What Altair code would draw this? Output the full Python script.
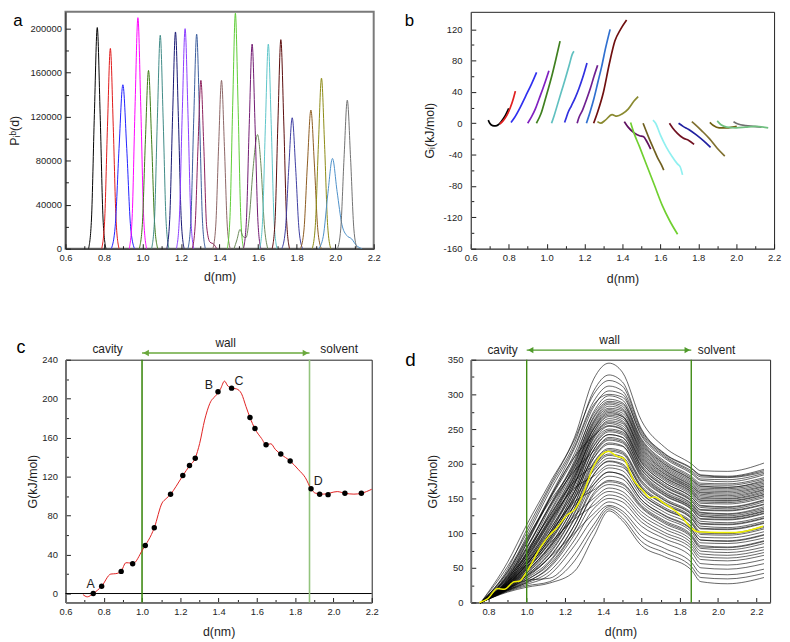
import altair as alt
import pandas as pd

FONT = "Liberation Sans"
INK = "#1e1e1e"

# ---------------- panel a : window histograms ----------------
A_COLORS = ["#000000", "#e01818", "#2020ff", "#ff00ff", "#3c7a14", "#3f8a86", "#141470",
            "#8a3cff", "#3a5c9c", "#8c1e5a", "#8c6464", "#5ccc34", "#6a8a58", "#701870",
            "#5cc4c8", "#5a0a0a", "#3c3ca0", "#8c5a1e", "#8c8a14", "#4c90c8", "#707070"]
A_X = [
    [0.72, 0.735, 0.75, 0.765, 0.78, 0.795, 0.81],
    [0.788, 0.803, 0.818, 0.833, 0.848, 0.863, 0.878],
    [0.838, 0.858, 0.878, 0.898, 0.918, 0.938, 0.958],
    [0.931, 0.946, 0.961, 0.976, 0.991, 1.006, 1.021],
    [0.983, 0.999, 1.015, 1.031, 1.047, 1.063, 1.079],
    [1.047, 1.062, 1.077, 1.092, 1.107, 1.122, 1.137],
    [1.126, 1.141, 1.156, 1.171, 1.186, 1.201, 1.216],
    [1.176, 1.191, 1.206, 1.221, 1.236, 1.251, 1.266],
    [1.236, 1.251, 1.266, 1.281, 1.296, 1.311, 1.326],
    [1.258, 1.273, 1.288, 1.303, 1.318, 1.333, 1.35, 1.37, 1.385],
    [1.365, 1.38, 1.395, 1.41, 1.425, 1.44, 1.455],
    [1.44, 1.454, 1.468, 1.482, 1.496, 1.51, 1.524],
    [1.475, 1.49, 1.506, 1.522, 1.537, 1.555, 1.575, 1.597, 1.615, 1.632, 1.65],
    [1.524, 1.539, 1.554, 1.569, 1.584, 1.599, 1.614],
    [1.608, 1.623, 1.638, 1.653, 1.668, 1.683, 1.698],
    [1.673, 1.688, 1.703, 1.718, 1.733, 1.748, 1.763],
    [1.723, 1.741, 1.759, 1.777, 1.795, 1.813, 1.831],
    [1.82, 1.838, 1.856, 1.874, 1.892, 1.91, 1.928],
    [1.881, 1.897, 1.913, 1.929, 1.945, 1.961, 1.977],
    [1.914, 1.938, 1.962, 1.986, 2.01, 2.035, 2.06, 2.085, 2.11, 2.14],
    [2.012, 2.029, 2.046, 2.063, 2.08, 2.097, 2.114],
]
A_Y = [
    [0, 27000, 122000, 201000, 122000, 27000, 0],
    [0, 24500, 111000, 182000, 111000, 24500, 0],
    [0, 20000, 91000, 149000, 91000, 20000, 0],
    [0, 28000, 128000, 210000, 128000, 28000, 0],
    [0, 22000, 99000, 162000, 99000, 22000, 0],
    [0, 26000, 118000, 194000, 118000, 26000, 0],
    [0, 26500, 120000, 197000, 120000, 26500, 0],
    [0, 27000, 122000, 200000, 122000, 27000, 0],
    [0, 26000, 119000, 195000, 119000, 26000, 0],
    [0, 20500, 93000, 153000, 93000, 20000, 6000, 4000, 0],
    [0, 20500, 93000, 153000, 93000, 20500, 0],
    [0, 29000, 130000, 214000, 130000, 29000, 0],
    [0, 8000, 17500, 11000, 10000, 30000, 75000, 103700, 75000, 22000, 0],
    [0, 25000, 113000, 186000, 113000, 25000, 0],
    [0, 25000, 113000, 186000, 113000, 25000, 0],
    [0, 25600, 116000, 190000, 116000, 25600, 0],
    [0, 16000, 72600, 119000, 72600, 16000, 0],
    [0, 17000, 77000, 126000, 77000, 17000, 0],
    [0, 21000, 94500, 155000, 94500, 21000, 0],
    [0, 11000, 50000, 82000, 52000, 22000, 12000, 9000, 3000, 0],
    [0, 18000, 82000, 135000, 82000, 18000, 0],
]

# ---------------- panel b : window free energies ----------------
B_COLORS = ["#000000", "#e02020", "#3030f0", "#8020c0", "#408020", "#60c0c0", "#3030e0",
            "#702090", "#3070d0", "#701010", "#8a8a30", "#601060", "#70d030", "#706020",
            "#90f0f0", "#701020", "#2020a0", "#807030", "#706010", "#707070", "#70c080"]
B_X = [
    [0.692, 0.70, 0.715, 0.73, 0.745, 0.76, 0.78, 0.80],
    [0.753, 0.77, 0.79, 0.81, 0.825, 0.835],
    [0.812, 0.83, 0.86, 0.89, 0.92, 0.947],
    [0.90, 0.92, 0.94, 0.96, 0.98, 1.0, 1.012],
    [0.946, 0.97, 0.99, 1.01, 1.03, 1.05, 1.071],
    [1.026, 1.04, 1.06, 1.08, 1.10, 1.12, 1.135, 1.144],
    [1.095, 1.105, 1.112, 1.13, 1.15, 1.17, 1.19, 1.213],
    [1.161, 1.17, 1.19, 1.21, 1.23, 1.25, 1.269],
    [1.21, 1.23, 1.25, 1.27, 1.29, 1.31, 1.335],
    [1.248, 1.27, 1.30, 1.33, 1.36, 1.39, 1.422],
    [1.268, 1.285, 1.31, 1.345, 1.37, 1.40, 1.43, 1.46, 1.483],
    [1.41, 1.43, 1.46, 1.49, 1.51, 1.53, 1.549],
    [1.443, 1.46, 1.49, 1.53, 1.57, 1.61, 1.65, 1.691],
    [1.509, 1.525, 1.545, 1.565, 1.585, 1.605, 1.618],
    [1.561, 1.575, 1.60, 1.63, 1.66, 1.69, 1.705, 1.717],
    [1.648, 1.665, 1.69, 1.72, 1.75, 1.778],
    [1.696, 1.72, 1.75, 1.79, 1.83, 1.865],
    [1.766, 1.79, 1.82, 1.86, 1.90, 1.94],
    [1.861, 1.88, 1.91, 1.95, 1.98, 2.003],
    [1.986, 2.01, 2.05, 2.09, 2.134],
    [1.90, 1.92, 1.95, 2.0, 2.05, 2.1, 2.169],
]
B_Y = [
    [4, 0, -3, -3.5, -2, 2, 9, 19],
    [-1, 3, 10, 21, 32, 41],
    [1, 7, 20, 35, 50, 65],
    [0, 8, 18, 31, 44, 58, 67],
    [0, 12, 28, 45, 63, 83, 105],
    [0, 10, 26, 42, 58, 75, 88, 92],
    [1, 8, 13, 22, 32, 44, 58, 77],
    [0, 7, 17, 30, 44, 60, 74],
    [0, 15, 32, 52, 72, 95, 120],
    [0, 15, 40, 75, 105, 120, 132],
    [2, 0, 4, 11, 9, 12, 18, 28, 34],
    [2, -5, -12, -16, -17, -24, -33],
    [1, -12, -30, -55, -80, -105, -125, -142],
    [0, -10, -22, -33, -44, -53, -60],
    [4, 0, -15, -30, -42, -52, -56, -66],
    [0, -6, -13, -19, -22, -27],
    [0, -4, -8, -15, -23, -31],
    [2, -3, -10, -20, -32, -42],
    [1, -3, -6, -6, -5, -4],
    [2, -1, -3, -4, -5],
    [3, -2, -5, -6, -5, -4, -6],
]

# ---------------- panel c : PMF ----------------
C_CURVE_X = [0.691, 0.714, 0.745, 0.789, 0.837, 0.863, 0.89, 0.916, 0.942, 0.951, 1.003, 1.064,
             1.105, 1.126, 1.149, 1.178, 1.213, 1.248, 1.278, 1.301, 1.327, 1.354, 1.389, 1.41,
             1.431, 1.448, 1.468, 1.494, 1.52, 1.543, 1.564, 1.59, 1.625, 1.648, 1.673, 1.696,
             1.725, 1.774, 1.818, 1.853, 1.883, 1.906, 1.95, 2.02, 2.06, 2.107, 2.146, 2.2]
C_CURVE_Y = [-1, -3.4, 0, 7.5, 20, 20.4, 22.7, 31.6, 31.2, 30.5, 45, 67.5,
             93, 97.4, 101.8, 110, 121, 131, 139, 154, 178, 195, 204, 210,
             218, 213, 211, 210, 205, 192, 180.6, 169, 159, 152.7, 153.7, 148,
             143, 136, 127, 119, 107.6, 103, 102, 104.6, 102.9, 102, 102.9, 107]
C_DOT_X = [0.745, 0.789, 0.891, 0.951, 1.017, 1.064, 1.149, 1.213, 1.248, 1.278, 1.397,
           1.468, 1.564, 1.59, 1.648, 1.725, 1.774, 1.883, 1.928, 1.972, 2.06, 2.146]
C_DOT_Y = [0, 7.5, 22.7, 30.5, 49.2, 67.5, 101.8, 121.2, 131.4, 138.8, 207,
           210.8, 180.6, 169.4, 152.7, 143.2, 136.1, 107.6, 101.8, 101.5, 102.9, 102.9]
C_LABELS = ["A", "B", "C", "D"]
C_LABEL_X = [0.732, 1.349, 1.507, 1.921]
C_LABEL_Y = [10.2, 213.6, 217.7, 115.3]
C_BOUNDS = [1.0, 1.875]
C_BOUND_COLORS = ["#3f8a14", "#93c47d"]
C_REGION_X = [0.82, 2.03]
C_WALL_X = [1.437]

# ---------------- panel d : bootstrap PMFs ----------------
D_KNOTS = [0.76, 0.9, 1.0, 1.12, 1.25, 1.35, 1.43, 1.5, 1.6, 1.72, 1.86, 1.91, 2.05, 2.24]
D_LINES = [
    [0, 58, 112, 172, 238, 322, 345, 332, 262, 224, 200, 190, 189, 201],
    [0, 52, 100, 165, 230, 305, 328, 318, 250, 215, 194, 184, 182, 192],
    [0, 48, 105, 168, 235, 300, 320, 312, 248, 214, 193, 183, 181, 190],
    [0, 45, 95, 160, 225, 290, 312, 305, 245, 212, 190, 181, 180, 188],
    [0, 44, 90, 152, 222, 285, 300, 296, 242, 210, 188, 178, 177, 186],
    [0, 40, 88, 150, 215, 282, 305, 300, 240, 208, 186, 176, 174, 184],
    [0, 39, 85, 148, 210, 272, 293, 288, 234, 202, 180, 170, 169, 178],
    [0, 38, 80, 140, 205, 275, 298, 292, 236, 204, 182, 172, 171, 180],
    [0, 37, 78, 138, 202, 266, 288, 283, 230, 199, 177, 167, 166, 174],
    [0, 42, 92, 145, 200, 268, 290, 286, 232, 200, 178, 168, 166, 176],
    [0, 35, 70, 130, 198, 262, 286, 280, 228, 197, 175, 165, 164, 172],
    [0, 34, 72, 128, 194, 260, 283, 278, 226, 195, 173, 163, 162, 170],
    [0, 36, 75, 125, 190, 258, 280, 276, 224, 193, 171, 161, 160, 168],
    [0, 32, 68, 122, 188, 255, 278, 273, 222, 191, 169, 159, 158, 167],
    [0, 30, 65, 118, 185, 252, 276, 270, 220, 190, 168, 158, 156, 165],
    [0, 30, 64, 116, 182, 250, 274, 268, 218, 188, 166, 156, 154, 163],
    [0, 33, 72, 135, 195, 250, 272, 268, 216, 186, 165, 154, 152, 162],
    [0, 29, 60, 112, 178, 246, 270, 265, 214, 185, 163, 152, 150, 160],
    [0, 28, 60, 110, 178, 245, 268, 262, 212, 183, 162, 150, 149, 158],
    [0, 28, 58, 108, 174, 242, 265, 260, 210, 181, 160, 148, 147, 156],
    [0, 31, 68, 120, 182, 240, 262, 258, 208, 180, 159, 147, 146, 155],
    [0, 27, 56, 104, 170, 238, 260, 255, 206, 178, 157, 145, 144, 153],
    [0, 27, 55, 100, 170, 236, 258, 252, 204, 176, 155, 143, 142, 151],
    [0, 34, 85, 150, 210, 240, 255, 250, 202, 173, 152, 140, 138, 148],
    [0, 26, 54, 100, 165, 232, 254, 249, 201, 173, 152, 139, 137, 147],
    [0, 26, 52, 95, 160, 230, 250, 246, 198, 170, 149, 137, 135, 145],
    [0, 25, 52, 96, 160, 226, 248, 244, 196, 168, 147, 134, 133, 142],
    [0, 29, 62, 115, 172, 225, 246, 242, 195, 167, 146, 133, 132, 141],
    [0, 25, 50, 92, 155, 220, 242, 238, 192, 164, 143, 130, 128, 138],
    [0, 24, 50, 92, 154, 220, 242, 238, 191, 163, 142, 129, 127, 136],
    [0, 32, 78, 138, 190, 218, 238, 234, 188, 160, 140, 127, 125, 134],
    [0, 23, 47, 86, 148, 214, 236, 232, 186, 158, 138, 125, 123, 132],
    [0, 24, 48, 88, 150, 212, 234, 230, 184, 157, 137, 124, 122, 131],
    [0, 22, 44, 82, 142, 208, 230, 226, 182, 155, 135, 121, 120, 129],
    [0, 27, 58, 105, 160, 208, 228, 225, 180, 154, 134, 120, 119, 128],
    [0, 23, 45, 80, 142, 202, 222, 218, 176, 150, 130, 117, 115, 124],
    [0, 21, 42, 78, 136, 200, 220, 216, 174, 148, 128, 114, 113, 122],
    [0, 30, 70, 125, 175, 198, 218, 214, 172, 147, 127, 113, 112, 121],
    [0, 22, 42, 75, 135, 195, 214, 210, 168, 144, 124, 110, 108, 117],
    [0, 20, 39, 72, 130, 192, 212, 207, 166, 142, 122, 107, 106, 115],
    [0, 26, 55, 98, 150, 190, 208, 205, 165, 141, 121, 106, 105, 114],
    [0, 21, 40, 70, 128, 185, 204, 200, 161, 137, 117, 102, 100, 110],
    [0, 19, 36, 66, 122, 184, 203, 198, 158, 135, 115, 100, 99, 108],
    [0, 28, 65, 118, 165, 182, 198, 195, 157, 134, 114, 98, 97, 106],
    [0, 20, 38, 65, 120, 175, 194, 190, 153, 130, 110, 94, 93, 102],
    [0, 24, 50, 90, 140, 170, 188, 184, 148, 126, 106, 90, 88, 97],
    [0, 18, 32, 58, 112, 170, 188, 183, 148, 125, 105, 90, 89, 98],
    [0, 20, 35, 60, 112, 165, 182, 178, 144, 122, 102, 86, 85, 93],
    [0, 25, 55, 100, 145, 162, 176, 172, 140, 118, 98, 82, 80, 89],
    [0, 17, 29, 52, 104, 158, 174, 170, 138, 116, 96, 80, 79, 88],
    [0, 19, 33, 55, 105, 155, 170, 166, 136, 114, 94, 78, 76, 85],
    [0, 22, 45, 80, 125, 150, 165, 160, 131, 110, 90, 74, 72, 80],
    [0, 18, 30, 50, 98, 145, 160, 155, 126, 106, 86, 70, 68, 76],
    [0, 23, 48, 85, 120, 140, 155, 150, 121, 101, 82, 66, 64, 72],
    [0, 18, 28, 45, 90, 135, 150, 145, 116, 97, 78, 62, 60, 68],
    [0, 20, 38, 65, 100, 128, 145, 138, 110, 92, 73, 56, 54, 62],
    [0, 17, 26, 40, 82, 122, 140, 132, 102, 86, 66, 50, 48, 56],
    [0, 19, 32, 35, 70, 112, 138, 128, 95, 78, 58, 42, 40, 48],
    [0, 16, 24, 30, 60, 105, 135, 122, 88, 72, 52, 36, 34, 42],
    [0, 15, 22, 28, 45, 95, 132, 118, 82, 66, 47, 30, 27, 36],
]
D_MEAN_X = [0.753, 0.797, 0.848, 0.883, 0.935, 0.96, 1.004, 1.073, 1.116, 1.159, 1.211, 1.254,
            1.297, 1.349, 1.427, 1.47, 1.505, 1.557, 1.608, 1.643, 1.669, 1.712, 1.798, 1.859,
            1.893, 2.005, 2.09, 2.235]
D_MEAN_Y = [0, 5.7, 20, 19, 30, 30.5, 46, 80, 96, 108, 126, 135,
            158, 196, 218, 211, 208, 177, 161, 151, 152, 144, 127, 108,
            102, 101, 101, 110]
D_BOUNDS = [1.0, 1.86]
D_REGION_X = [0.874, 1.992]
D_WALL_X = [1.433]
REGION_NAMES = ["cavity", "solvent"]

# ---------------- ticks ----------------
X_TICKS = [0.6, 0.7, 0.8, 0.9, 1.0, 1.1, 1.2, 1.3, 1.4, 1.5, 1.6, 1.7, 1.8, 1.9, 2.0, 2.1, 2.2]
D_X_TICKS = [0.8, 0.9, 1.0, 1.1, 1.2, 1.3, 1.4, 1.5, 1.6, 1.7, 1.8, 1.9, 2.0, 2.1, 2.2]
A_Y_TICKS = [0, 20000, 40000, 60000, 80000, 100000, 120000, 140000, 160000, 180000, 200000]
B_Y_TICKS = [-160, -140, -120, -100, -80, -60, -40, -20, 0, 20, 40, 60, 80, 100, 120]
C_Y_TICKS = [0, 20, 40, 60, 80, 100, 120, 140, 160, 180, 200, 220, 240]
D_Y_TICKS = [0, 25, 50, 75, 100, 125, 150, 175, 200, 225, 250, 275, 300, 325, 350]


def to_long(xs_list, ys_list, colors=None):
    rows = []
    for k, (xs, ys) in enumerate(zip(xs_list, ys_list)):
        for j, (x, y) in enumerate(zip(xs, ys)):
            row = {"k": k, "j": j, "x": x, "y": y}
            if colors is not None:
                row["c"] = colors[k]
            rows.append(row)
    return pd.DataFrame(rows)


def make_axis(values, major, label, title, title_x, title_y, pad, dcolor, dwidth, vertical):
    kw = dict(
        values=values,
        labelExpr=f"({major}) ? {label} : ''",
        tickSize=alt.ExprRef(expr=f"({major}) ? -5 : -3"),
        tickColor=INK, tickWidth=1,
        labelPadding=pad + 5,
        labelFont=FONT, labelFontSize=9.5, labelColor=INK,
        labelFlush=False, labelOverlap=False,
        domainColor=dcolor, domainWidth=dwidth,
        grid=False,
        title=title, titleFont=FONT, titleFontSize=12.5, titleFontWeight="normal",
        titleColor=INK, titleX=title_x, titleY=title_y,
        titleBaseline="middle", titleAlign="center",
    )
    if vertical:
        kw["titleAngle"] = 270
    return alt.Axis(**kw)


MAJ_X = "round(datum.value*10) % 2 == 0"
LAB_X = "format(datum.value, '.1f')"
LAB_Y = "'' + datum.value"


def letter(txt, px, py, size):
    return alt.Chart(pd.DataFrame({"t": [txt]})).mark_text(
        font=FONT, fontSize=size, color="#000", align="center", baseline="alphabetic"
    ).encode(text="t:N", x=alt.value(px), y=alt.value(py))


# ---------------- panel a ----------------
WA, HA = 311, 239
xa = alt.X("x:Q", scale=alt.Scale(domain=[0.6, 2.2], nice=False, zero=False),
           axis=make_axis(X_TICKS, MAJ_X, LAB_X, "d(nm)", WA / 2, 28, 4, INK, 1, False))
ya = alt.Y("y:Q", scale=alt.Scale(domain=[0, 215300], nice=False),
           axis=make_axis(A_Y_TICKS, "datum.value % 40000 == 0", LAB_Y, "Pᵢᵇ(d)",
                          -51, HA / 2, 4, INK, 1, True))
a_lines = alt.Chart(to_long(A_X, A_Y, A_COLORS)).mark_line(
    strokeWidth=1, interpolate="monotone", clip=True).encode(
    x=xa, y=ya, color=alt.Color("c:N", scale=None), detail="k:N", order="j:Q")
panel_a = alt.layer(a_lines, letter("a", -48, 14, 17)).properties(
    width=WA, height=HA, view=alt.ViewBackground(stroke="#7a7a7a", strokeWidth=2))

# ---------------- panel b ----------------
WB, HB = 306, 239
xb = alt.X("x:Q", scale=alt.Scale(domain=[0.6, 2.2], nice=False, zero=False),
           axis=make_axis(X_TICKS, MAJ_X, LAB_X, "d(nm)", WB / 2, 30, 4, "#555", 1, False))
yb = alt.Y("y:Q", scale=alt.Scale(domain=[-160.4, 142.4], nice=False, zero=False),
           axis=make_axis(B_Y_TICKS, "datum.value % 40 == 0", LAB_Y, "Gᵢ(kJ/mol)",
                          -42, HB / 2, 9, "#555", 1, True))
b_lines = alt.Chart(to_long(B_X, B_Y, B_COLORS)).mark_line(
    strokeWidth=1.7, interpolate="monotone").encode(
    x=xb, y=yb, color=alt.Color("c:N", scale=None), detail="k:N", order="j:Q")
panel_b = alt.layer(b_lines, letter("b", -62, 14, 17)).properties(width=WB, height=HB)

# ---------------- panel c ----------------
WC, HC = 309, 245
xc = alt.X("x:Q", scale=alt.Scale(domain=[0.6, 2.2], nice=False, zero=False),
           axis=make_axis(X_TICKS, MAJ_X, LAB_X, "d(nm)", WC / 2, 29, 4, "#6e6e6e", 1.8, False))
yc = alt.Y("y:Q", scale=alt.Scale(domain=[-9.2, 240], nice=False, zero=False),
           axis=make_axis(C_Y_TICKS, "datum.value % 40 == 0", LAB_Y, "G(kJ/mol)",
                          -33, HC / 2, 8, "#6e6e6e", 1.8, True))
c_zero = alt.Chart(pd.DataFrame({"y": [0]})).mark_rule(color="#000", strokeWidth=1).encode(y=yc)
c_bounds = alt.Chart(pd.DataFrame({"x": C_BOUNDS, "c": C_BOUND_COLORS})).mark_rule(strokeWidth=1.6).encode(
    x=xc, color=alt.Color("c:N", scale=None))
c_curve = alt.Chart(pd.DataFrame({"x": C_CURVE_X, "y": C_CURVE_Y})).mark_line(
    color="#e02020", strokeWidth=1, interpolate="monotone").encode(x=xc, y=yc)
c_dots = alt.Chart(pd.DataFrame({"x": C_DOT_X, "y": C_DOT_Y})).mark_circle(
    size=30, color="#000", opacity=1).encode(x=xc, y=yc)
c_lab = alt.Chart(pd.DataFrame({"x": C_LABEL_X, "y": C_LABEL_Y, "t": C_LABELS})).mark_text(
    font=FONT, fontSize=12.5, color=INK, baseline="middle").encode(x=xc, y=yc, text="t:N")
c_reg = alt.Chart(pd.DataFrame({"x": C_REGION_X, "t": REGION_NAMES})).mark_text(
    font=FONT, fontSize=12, color=INK, baseline="alphabetic").encode(x=xc, y=alt.value(-7), text="t:N")
c_wall = alt.Chart(pd.DataFrame({"x": C_WALL_X, "t": ["wall"]})).mark_text(
    font=FONT, fontSize=12, color=INK, baseline="alphabetic").encode(x=xc, y=alt.value(-12.5), text="t:N")
ARROW_C = "#6aa83c"
c_arrow = alt.Chart(pd.DataFrame({"x": [C_BOUNDS[0]], "x2": [C_BOUNDS[1]]})).mark_rule(
    color=ARROW_C, strokeWidth=1.5).encode(x=xc, x2="x2:Q", y=alt.value(-6.7))
c_head_l = alt.Chart(pd.DataFrame({"x": [C_BOUNDS[0]]})).mark_point(
    shape="triangle-left", filled=True, size=45, color=ARROW_C, opacity=1, xOffset=4).encode(x=xc, y=alt.value(-6.7))
c_head_r = alt.Chart(pd.DataFrame({"x": [C_BOUNDS[1]]})).mark_point(
    shape="triangle-right", filled=True, size=45, color=ARROW_C, opacity=1, xOffset=-4).encode(x=xc, y=alt.value(-6.7))
panel_c = alt.layer(c_zero, c_bounds, c_curve, c_dots, c_lab, c_reg, c_wall, c_arrow, c_head_l, c_head_r,
                    letter("c", -45, -7, 18)).properties(width=WC, height=HC)

# ---------------- panel d ----------------
WD, HD = 302, 245
xd = alt.X("x:Q", scale=alt.Scale(domain=[0.708, 2.272], nice=False, zero=False),
           axis=make_axis(D_X_TICKS, MAJ_X, LAB_X, "d(nm)", WD / 2, 29, 4, "#6e6e6e", 1.8, False))
yd = alt.Y("y:Q", scale=alt.Scale(domain=[0, 350], nice=False, zero=False),
           axis=make_axis(D_Y_TICKS, "datum.value % 50 == 0", LAB_Y, "G(kJ/mol)",
                          -39, HD / 2, 8, "#6e6e6e", 1.8, True))
d_df = to_long([D_KNOTS] * len(D_LINES), D_LINES)
d_lines = alt.Chart(d_df).mark_line(color="#000000", strokeWidth=0.75, opacity=0.8,
                                    interpolate="monotone").encode(x=xd, y=yd, detail="k:N", order="j:Q")
d_mean = alt.Chart(pd.DataFrame({"x": D_MEAN_X, "y": D_MEAN_Y})).mark_line(
    color="#f0f000", strokeWidth=1.5, interpolate="monotone").encode(x=xd, y=yd)
d_bounds = alt.Chart(pd.DataFrame({"x": D_BOUNDS})).mark_rule(color="#3f8a14", strokeWidth=1.4).encode(x=xd)
d_reg = alt.Chart(pd.DataFrame({"x": D_REGION_X, "t": REGION_NAMES})).mark_text(
    font=FONT, fontSize=12, color=INK, baseline="alphabetic").encode(x=xd, y=alt.value(-6), text="t:N")
d_wall = alt.Chart(pd.DataFrame({"x": D_WALL_X, "t": ["wall"]})).mark_text(
    font=FONT, fontSize=12, color=INK, baseline="alphabetic").encode(x=xd, y=alt.value(-16), text="t:N")
ARROW_D = "#4f9a2a"
d_arrow = alt.Chart(pd.DataFrame({"x": [D_BOUNDS[0]], "x2": [D_BOUNDS[1]]})).mark_rule(
    color=ARROW_D, strokeWidth=1.2).encode(x=xd, x2="x2:Q", y=alt.value(-9.7))
d_head_l = alt.Chart(pd.DataFrame({"x": [D_BOUNDS[0]]})).mark_point(
    shape="triangle-left", filled=True, size=40, color=ARROW_D, opacity=1, xOffset=4).encode(x=xd, y=alt.value(-9.7))
d_head_r = alt.Chart(pd.DataFrame({"x": [D_BOUNDS[1]]})).mark_point(
    shape="triangle-right", filled=True, size=40, color=ARROW_D, opacity=1, xOffset=-4).encode(x=xd, y=alt.value(-9.7))
panel_d = alt.layer(d_lines, d_mean, d_bounds, d_reg, d_wall, d_arrow, d_head_l, d_head_r,
                    letter("d", -61, 6, 19)).properties(width=WD, height=HD)

chart = alt.concat(panel_a, panel_b, panel_c, panel_d, columns=2,
                   spacing={"row": 112, "column": 98}, bounds="flush",
                   padding={"left": 0, "top": 0, "right": 0, "bottom": 0},
                   background="white").configure_view(stroke="#222", strokeWidth=1)

chart.save("out.html", embed_options={"renderer": "svg", "actions": False})
